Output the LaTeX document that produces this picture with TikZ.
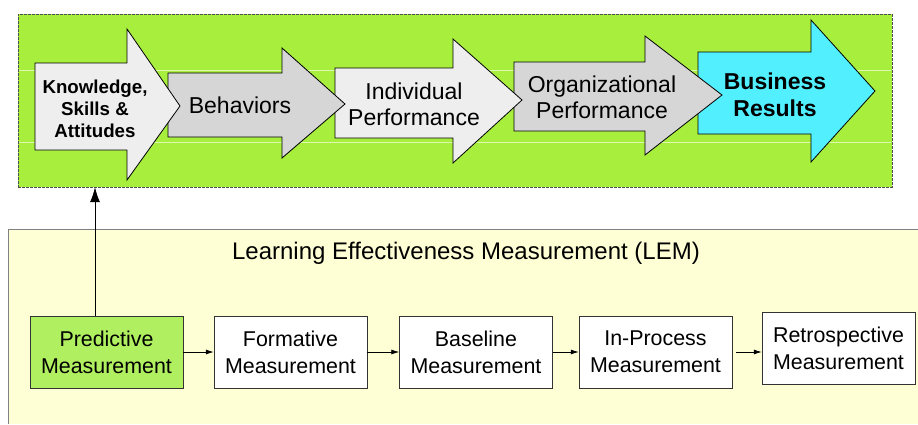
\documentclass[tikz,border=0pt]{standalone}
\usepackage{fontspec}
\setmainfont{Liberation Sans}
\usetikzlibrary{arrows.meta}

\definecolor{chaingreen}{RGB}{168,238,60}
\definecolor{predgreen}{RGB}{176,240,96}
\definecolor{lemyellow}{RGB}{255,255,214}
\definecolor{lightgrey}{RGB}{238,238,238}
\definecolor{midgrey}{RGB}{214,214,214}
\definecolor{resultcyan}{RGB}{82,240,255}

\tikzset{
  blockarrow/.style={draw=black, line width=0.8pt, line join=miter},
  arrowtext/.style={align=center, inner sep=0pt, font=\fontsize{23}{26}\selectfont},
  measbox/.style={draw=black!80, fill=white, minimum width=153pt, minimum height=72pt,
    align=center, inner sep=0pt, font=\fontsize{21.4}{27}\selectfont},
  steplink/.style={-{Latex[length=8pt,width=5pt]}, line width=0.8pt}
}

\begin{document}
\begin{tikzpicture}[x=1pt,y=-1pt]
\useasboundingbox (0,0) rectangle (918,424);

% LEM panel
\fill[lemyellow] (8,229) rectangle (918,424);
\draw[gray, line width=1pt] (8,424) |- (918,229);
\node[font=\fontsize{24}{28}\selectfont] (lem) at (466,253) {Learning Effectiveness Measurement (LEM)};

% Results chain panel
\node[draw=black!70, dash pattern=on 3pt off 1pt, fill=chaingreen, minimum width=874pt,
  minimum height=173pt, inner sep=0pt] (chain) at (455,100.5) {};
\draw[white!60!chaingreen] (19,70) -- (891,70);
\draw[white!60!chaingreen] (19,142) -- (891,142);

% Block arrows (last one first, so each head lies on the next body)
\draw[blockarrow, fill=resultcyan] (698,52) -- (811,52) -- (811,20) -- (875,91)
  -- (811,162) -- (811,134) -- (698,134) -- cycle;
\draw[blockarrow, fill=midgrey] (514,62) -- (645,62) -- (645,36) -- (722,95)
  -- (645,155) -- (645,131) -- (514,131) -- cycle;
\draw[blockarrow, fill=lightgrey] (335,68) -- (453,68) -- (453,39) -- (522,100)
  -- (453,163) -- (453,138) -- (335,138) -- cycle;
\draw[blockarrow, fill=midgrey] (168,73) -- (282,73) -- (282,48) -- (345,104)
  -- (282,158) -- (282,137) -- (168,137) -- cycle;
\draw[blockarrow, fill=lightgrey] (35,63) -- (127,63) -- (127,29) -- (180,106)
  -- (127,180) -- (127,150) -- (35,150) -- cycle;

% Arrow labels
\node[arrowtext, font=\fontsize{18.7}{22}\selectfont\bfseries] (ksa) at (95,109) {Knowledge,\\Skills \&\\Attitudes};
\node[arrowtext] (beh) at (240,105) {Behaviors};
\node[arrowtext] (indiv) at (414,104) {Individual\\Performance};
\node[arrowtext] (orgperf) at (602,97) {Organizational\\Performance};
\node[arrowtext, font=\fontsize{23}{27}\selectfont\bfseries] (busres) at (775,95) {Business\\Results};

% Measurement steps
\node[measbox, fill=predgreen] (pred) at (106.5,352) {Predictive\\Measurement};
\node[measbox] (form) at (290.5,352) {Formative\\Measurement};
\node[measbox] (base) at (476,352) {Baseline\\Measurement};
\node[measbox] (inproc) at (655.5,352) {In-Process\\Measurement};
\node[measbox] (retro) at (838.5,348.5) {Retrospective\\Measurement};

\draw[steplink] (pred.east) -- (form.west);
\draw[steplink] (form.east) -- (base.west);
\draw[steplink] (base.east) -- (inproc.west);
\draw[steplink] ([xshift=4pt]inproc.east) -- (retro.west |- inproc.east);

% Link up to the chain
\coordinate (upx) at (95,0);
\draw[-{Latex[length=15pt,width=10pt]}, line width=0.8pt] (pred.north -| upx) -- (chain.south -| upx);
\end{tikzpicture}
\end{document}
